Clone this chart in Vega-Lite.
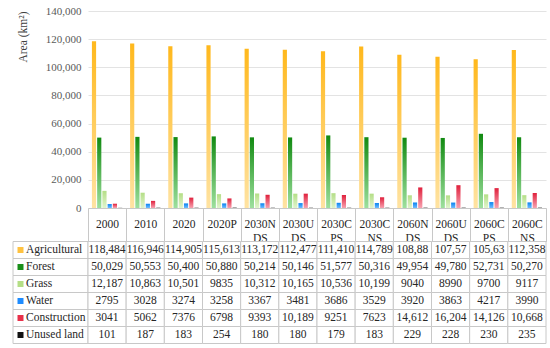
{
  "$schema": "https://vega.github.io/schema/vega-lite/v6.json",
  "autosize": {"type": "pad"},
  "padding": {"left": 12, "top": 5, "right": 5, "bottom": 0},
  "background": "white",
  "config": {"view": {"stroke": null}, "font": "'Liberation Serif', 'Times New Roman', serif"},
  "datasets": {
    "land": [
      {"period": "2000", "type": "Agricultural", "area": 118484, "shown": "118,484"},
      {"period": "2010", "type": "Agricultural", "area": 116946, "shown": "116,946"},
      {"period": "2020", "type": "Agricultural", "area": 114905, "shown": "114,905"},
      {"period": "2020P", "type": "Agricultural", "area": 115613, "shown": "115,613"},
      {"period": "2030NDS", "type": "Agricultural", "area": 113172, "shown": "113,172"},
      {"period": "2030UDS", "type": "Agricultural", "area": 112477, "shown": "112,477"},
      {"period": "2030CPS", "type": "Agricultural", "area": 111410, "shown": "111,410"},
      {"period": "2030CNS", "type": "Agricultural", "area": 114789, "shown": "114,789"},
      {"period": "2060NDS", "type": "Agricultural", "area": 108880, "shown": "108,88"},
      {"period": "2060UDS", "type": "Agricultural", "area": 107570, "shown": "107,57"},
      {"period": "2060CPS", "type": "Agricultural", "area": 105630, "shown": "105,63"},
      {"period": "2060CNS", "type": "Agricultural", "area": 112358, "shown": "112,358"},
      {"period": "2000", "type": "Forest", "area": 50029, "shown": "50,029"},
      {"period": "2010", "type": "Forest", "area": 50553, "shown": "50,553"},
      {"period": "2020", "type": "Forest", "area": 50400, "shown": "50,400"},
      {"period": "2020P", "type": "Forest", "area": 50880, "shown": "50,880"},
      {"period": "2030NDS", "type": "Forest", "area": 50214, "shown": "50,214"},
      {"period": "2030UDS", "type": "Forest", "area": 50146, "shown": "50,146"},
      {"period": "2030CPS", "type": "Forest", "area": 51577, "shown": "51,577"},
      {"period": "2030CNS", "type": "Forest", "area": 50316, "shown": "50,316"},
      {"period": "2060NDS", "type": "Forest", "area": 49954, "shown": "49,954"},
      {"period": "2060UDS", "type": "Forest", "area": 49780, "shown": "49,780"},
      {"period": "2060CPS", "type": "Forest", "area": 52731, "shown": "52,731"},
      {"period": "2060CNS", "type": "Forest", "area": 50270, "shown": "50,270"},
      {"period": "2000", "type": "Grass", "area": 12187, "shown": "12,187"},
      {"period": "2010", "type": "Grass", "area": 10863, "shown": "10,863"},
      {"period": "2020", "type": "Grass", "area": 10501, "shown": "10,501"},
      {"period": "2020P", "type": "Grass", "area": 9835, "shown": "9835"},
      {"period": "2030NDS", "type": "Grass", "area": 10312, "shown": "10,312"},
      {"period": "2030UDS", "type": "Grass", "area": 10165, "shown": "10,165"},
      {"period": "2030CPS", "type": "Grass", "area": 10536, "shown": "10,536"},
      {"period": "2030CNS", "type": "Grass", "area": 10199, "shown": "10,199"},
      {"period": "2060NDS", "type": "Grass", "area": 9040, "shown": "9040"},
      {"period": "2060UDS", "type": "Grass", "area": 8990, "shown": "8990"},
      {"period": "2060CPS", "type": "Grass", "area": 9700, "shown": "9700"},
      {"period": "2060CNS", "type": "Grass", "area": 9117, "shown": "9117"},
      {"period": "2000", "type": "Water", "area": 2795, "shown": "2795"},
      {"period": "2010", "type": "Water", "area": 3028, "shown": "3028"},
      {"period": "2020", "type": "Water", "area": 3274, "shown": "3274"},
      {"period": "2020P", "type": "Water", "area": 3258, "shown": "3258"},
      {"period": "2030NDS", "type": "Water", "area": 3367, "shown": "3367"},
      {"period": "2030UDS", "type": "Water", "area": 3481, "shown": "3481"},
      {"period": "2030CPS", "type": "Water", "area": 3686, "shown": "3686"},
      {"period": "2030CNS", "type": "Water", "area": 3529, "shown": "3529"},
      {"period": "2060NDS", "type": "Water", "area": 3920, "shown": "3920"},
      {"period": "2060UDS", "type": "Water", "area": 3863, "shown": "3863"},
      {"period": "2060CPS", "type": "Water", "area": 4217, "shown": "4217"},
      {"period": "2060CNS", "type": "Water", "area": 3990, "shown": "3990"},
      {"period": "2000", "type": "Construction", "area": 3041, "shown": "3041"},
      {"period": "2010", "type": "Construction", "area": 5062, "shown": "5062"},
      {"period": "2020", "type": "Construction", "area": 7376, "shown": "7376"},
      {"period": "2020P", "type": "Construction", "area": 6798, "shown": "6798"},
      {"period": "2030NDS", "type": "Construction", "area": 9393, "shown": "9393"},
      {"period": "2030UDS", "type": "Construction", "area": 10189, "shown": "10,189"},
      {"period": "2030CPS", "type": "Construction", "area": 9251, "shown": "9251"},
      {"period": "2030CNS", "type": "Construction", "area": 7623, "shown": "7623"},
      {"period": "2060NDS", "type": "Construction", "area": 14612, "shown": "14,612"},
      {"period": "2060UDS", "type": "Construction", "area": 16204, "shown": "16,204"},
      {"period": "2060CPS", "type": "Construction", "area": 14126, "shown": "14,126"},
      {"period": "2060CNS", "type": "Construction", "area": 10668, "shown": "10,668"},
      {"period": "2000", "type": "Unused land", "area": 101, "shown": "101"},
      {"period": "2010", "type": "Unused land", "area": 187, "shown": "187"},
      {"period": "2020", "type": "Unused land", "area": 183, "shown": "183"},
      {"period": "2020P", "type": "Unused land", "area": 254, "shown": "254"},
      {"period": "2030NDS", "type": "Unused land", "area": 180, "shown": "180"},
      {"period": "2030UDS", "type": "Unused land", "area": 180, "shown": "180"},
      {"period": "2030CPS", "type": "Unused land", "area": 179, "shown": "179"},
      {"period": "2030CNS", "type": "Unused land", "area": 183, "shown": "183"},
      {"period": "2060NDS", "type": "Unused land", "area": 229, "shown": "229"},
      {"period": "2060UDS", "type": "Unused land", "area": 228, "shown": "228"},
      {"period": "2060CPS", "type": "Unused land", "area": 230, "shown": "230"},
      {"period": "2060CNS", "type": "Unused land", "area": 235, "shown": "235"}
    ],
    "types": [
      {"type": "Agricultural"}, {"type": "Forest"}, {"type": "Grass"},
      {"type": "Water"}, {"type": "Construction"}, {"type": "Unused land"}
    ]
  },
  "columns": 2,
  "spacing": {"row": 33.5, "column": 0},
  "bounds": "flush",
  "resolve": {"scale": {"x": "independent", "y": "independent"}},
  "concat": [
    {
      "width": 75,
      "height": 197,
      "data": {"values": []},
      "mark": {"type": "point", "opacity": 0},
      "encoding": {}
    },
    {
      "width": 458,
      "height": 197,
      "data": {"name": "land"},
      "mark": {"type": "bar"},
      "encoding": {
        "x": {
          "field": "period",
          "type": "nominal",
          "sort": null,
          "scale": {"paddingInner": 0, "paddingOuter": 0},
          "axis": {
            "title": null,
            "domain": true,
            "domainColor": "#c8c8c8",
            "ticks": true,
            "tickBand": "extent",
            "tickSize": 33.5,
            "tickColor": "#c8c8c8",
            "labelAngle": 0,
            "labelBaseline": "middle",
            "labelPadding": -16.75,
            "labelLineHeight": 14,
            "labelOverlap": false,
            "labelFont": "'Liberation Serif', 'Times New Roman', serif",
            "labelFontSize": 11.5,
            "labelColor": "#262626",
            "labelExpr": "length(datum.label) > 5 ? [substring(datum.label, 0, 5), substring(datum.label, 5)] : datum.label"
          }
        },
        "xOffset": {
          "field": "type",
          "type": "nominal",
          "sort": ["Agricultural", "Forest", "Grass", "Water", "Construction", "Unused land"],
          "scale": {"paddingInner": 0.2, "paddingOuter": 0.75}
        },
        "y": {
          "field": "area",
          "type": "quantitative",
          "scale": {"domain": [0, 140000], "nice": false},
          "axis": {
            "title": "Area (km²)",
            "titleFont": "'Liberation Serif', 'Times New Roman', serif",
            "titleFontWeight": "normal",
            "titleFontSize": 11.5,
            "titleColor": "#404040",
            "titleAnchor": "end",
            "titlePadding": 17,
            "values": [0, 20000, 40000, 60000, 80000, 100000, 120000, 140000],
            "format": ",.0f",
            "domain": false,
            "ticks": false,
            "labelPadding": 7,
            "labelFont": "'Liberation Serif', 'Times New Roman', serif",
            "labelFontSize": 11,
            "labelColor": "#595959",
            "gridColor": "#e3e3e3"
          }
        },
        "color": {
          "condition": [
            {"test": "datum.type === 'Agricultural'", "value": {"gradient": "linear", "x1": 0, "y1": 0, "x2": 0, "y2": 1, "stops": [{"offset": 0, "color": "#FFB81C"}, {"offset": 1, "color": "#FFE3A3"}]}},
            {"test": "datum.type === 'Forest'", "value": {"gradient": "linear", "x1": 0, "y1": 0, "x2": 0, "y2": 1, "stops": [{"offset": 0, "color": "#118A11"}, {"offset": 1, "color": "#9EE09E"}]}},
            {"test": "datum.type === 'Grass'", "value": {"gradient": "linear", "x1": 0, "y1": 0, "x2": 0, "y2": 1, "stops": [{"offset": 0, "color": "#B4DE86"}, {"offset": 1, "color": "#E0F4CC"}]}},
            {"test": "datum.type === 'Water'", "value": {"gradient": "linear", "x1": 0, "y1": 0, "x2": 0, "y2": 1, "stops": [{"offset": 0, "color": "#0A84F0"}, {"offset": 1, "color": "#6DBBFF"}]}},
            {"test": "datum.type === 'Construction'", "value": {"gradient": "linear", "x1": 0, "y1": 0, "x2": 0, "y2": 1, "stops": [{"offset": 0, "color": "#E0203C"}, {"offset": 1, "color": "#F7A2B0"}]}}
          ],
          "value": "#111111"
        }
      }
    },
    {
      "width": 75,
      "height": 102,
      "data": {"name": "types"},
      "encoding": {
        "y": {
          "field": "type",
          "type": "nominal",
          "sort": null,
          "scale": {"paddingInner": 0, "paddingOuter": 0},
          "axis": null
        }
      },
      "layer": [
        {"mark": {"type": "rect", "fill": "white", "stroke": "#c8c8c8", "strokeWidth": 1}},
        {
          "mark": {"type": "point", "shape": "square", "filled": true, "size": 36, "opacity": 1, "xOffset": -30},
          "encoding": {
            "color": {
              "field": "type",
              "type": "nominal",
              "legend": null,
              "scale": {
                "domain": ["Agricultural", "Forest", "Grass", "Water", "Construction", "Unused land"],
                "range": ["#FFC240", "#1A8F1A", "#B4DE86", "#1E8CFF", "#E8304A", "#111111"]
              }
            }
          }
        },
        {
          "mark": {"type": "text", "align": "left", "dx": -24.5, "font": "'Liberation Serif', 'Times New Roman', serif", "fontSize": 11.5, "color": "#262626"},
          "encoding": {"text": {"field": "type"}}
        }
      ]
    },
    {
      "width": 458,
      "height": 102,
      "data": {"name": "land"},
      "encoding": {
        "x": {
          "field": "period",
          "type": "nominal",
          "sort": null,
          "scale": {"paddingInner": 0, "paddingOuter": 0},
          "axis": null
        },
        "y": {
          "field": "type",
          "type": "nominal",
          "sort": ["Agricultural", "Forest", "Grass", "Water", "Construction", "Unused land"],
          "scale": {"paddingInner": 0, "paddingOuter": 0},
          "axis": null
        }
      },
      "layer": [
        {"mark": {"type": "rect", "fill": "white", "stroke": "#c8c8c8", "strokeWidth": 1}},
        {
          "mark": {"type": "text", "font": "'Liberation Serif', 'Times New Roman', serif", "fontSize": 11.5, "color": "#262626"},
          "encoding": {"text": {"field": "shown"}}
        }
      ]
    }
  ]
}
